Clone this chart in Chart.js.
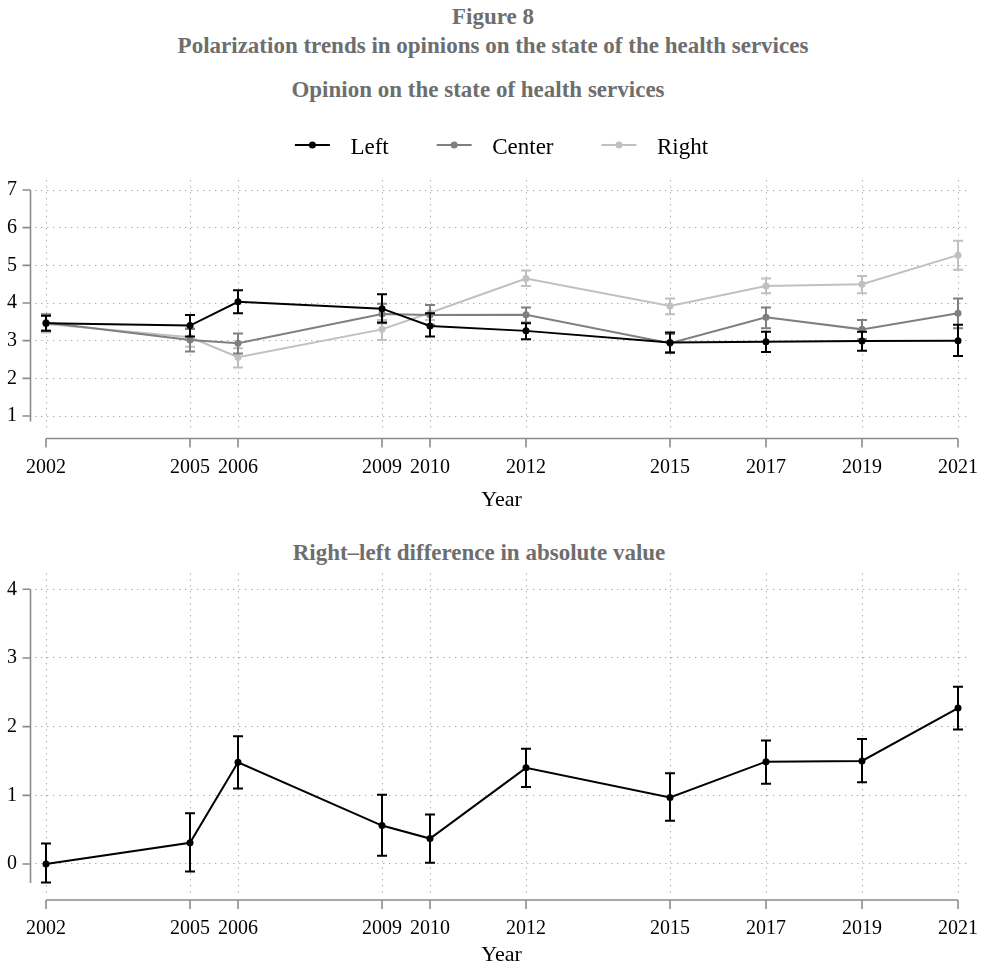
<!DOCTYPE html>
<html>
<head>
<meta charset="utf-8">
<script src="https://cdn.jsdelivr.net/npm/chart.js@4.4.1/dist/chart.umd.min.js"></script>
<style>
  html, body { margin: 0; padding: 0; background: #fff; }
  body { width: 985px; height: 971px; position: relative; overflow: hidden; font-family: "Liberation Serif", serif; }
  .ttl { position: absolute; left: 0; text-align: center; font-weight: bold; font-size: 23px; line-height: 28px; color: #6e6e6e; white-space: nowrap; }
  #topWrap { position: absolute; left: 0; top: 60px; width: 985px; height: 460px; }
  #botWrap { position: absolute; left: 0; top: 560px; width: 985px; height: 411px; }
</style>
</head>
<body>
<div class="ttl" style="top:3px; width:986px;">Figure 8</div>
<div class="ttl" style="top:32px; width:986px;">Polarization trends in opinions on the state of the health services</div>
<div class="ttl" style="top:76px; width:956px;">Opinion on the state of health services</div>
<div class="ttl" style="top:539px; width:958px;">Right–left difference in absolute value</div>
<div id="topWrap"><canvas id="opinionChart"></canvas></div>
<div id="botWrap"><canvas id="diffChart"></canvas></div>
<script>
const years = [2002, 2005, 2006, 2009, 2010, 2012, 2015, 2017, 2019, 2021];

const leftMean  = [3.46, 3.40, 4.03, 3.85, 3.39, 3.26, 2.95, 2.97, 2.99, 3.00];
const leftLower = [3.26, 3.11, 3.73, 3.48, 3.11, 3.04, 2.68, 2.70, 2.73, 2.59];
const leftUpper = [3.66, 3.68, 4.34, 4.23, 3.73, 3.46, 3.22, 3.24, 3.24, 3.42];

const centerMean  = [3.48, 3.02, 2.93, 3.71, 3.68, 3.69, 2.93, 3.62, 3.30, 3.73];
const centerLower = [3.26, 2.71, 2.66, 3.46, 3.42, 3.48, 2.70, 3.33, 3.04, 3.33];
const centerUpper = [3.70, 3.31, 3.19, 3.98, 3.95, 3.88, 3.18, 3.88, 3.55, 4.12];

const rightMean  = [3.44, 3.09, 2.56, 3.30, 3.74, 4.65, 3.92, 4.45, 4.50, 5.27];
const rightLower = [3.22, 2.84, 2.29, 3.02, 3.55, 4.45, 3.70, 4.26, 4.26, 4.88];
const rightUpper = [3.68, 3.34, 2.80, 3.55, 3.95, 4.86, 4.12, 4.65, 4.72, 5.65];

const diffMean  = [0.00, 0.31, 1.48, 0.56, 0.37, 1.40, 0.97, 1.49, 1.50, 2.27];
const diffLower = [-0.27, -0.11, 1.10, 0.12, 0.02, 1.12, 0.63, 1.17, 1.19, 1.96];
const diffUpper = [0.30, 0.74, 1.86, 1.01, 0.72, 1.68, 1.32, 1.80, 1.82, 2.58];

const opinionTicks = [1, 2, 3, 4, 5, 6, 7];
const diffTicks = [0, 1, 2, 3, 4];

const FONT = '"Liberation Serif", serif';
const axisColor = '#8c8c8c';
const gridColor = '#b0b0b0';

// Stata-like axes: drawn a few px away from the plot region
const offsetAxes = {
  id: 'offsetAxes',
  beforeDatasetsDraw(chart) {
    const { ctx, chartArea, scales: { x, y } } = chart;
    const yv = y.ticks.map(t => t.value);
    const xv = x.ticks.map(t => t.value);
    const ax = chartArea.left - 4.5;
    const ay = chartArea.bottom + 7;
    ctx.save();
    ctx.strokeStyle = axisColor;
    ctx.lineWidth = 1.6;
    ctx.beginPath();
    ctx.moveTo(ax, y.getPixelForValue(Math.max(...yv)));
    ctx.lineTo(ax, chartArea.bottom - 10);
    yv.forEach(v => {
      const py = y.getPixelForValue(v);
      ctx.moveTo(ax - 8, py);
      ctx.lineTo(ax, py);
    });
    ctx.moveTo(x.getPixelForValue(xv[0]), ay);
    ctx.lineTo(x.getPixelForValue(xv[xv.length - 1]), ay);
    xv.forEach(v => {
      const px = x.getPixelForValue(v);
      ctx.moveTo(px, ay);
      ctx.lineTo(px, ay + 9);
    });
    ctx.stroke();
    ctx.restore();
  }
};

const errorBars = {
  id: 'errorBars',
  afterDatasetDraw(chart, args) {
    const ds = chart.data.datasets[args.index];
    if (!ds.lower) return;
    const ctx = chart.ctx;
    const y = chart.scales.y;
    ctx.save();
    ctx.strokeStyle = ds.borderColor;
    ctx.lineWidth = 2;
    args.meta.data.forEach((pt, i) => {
      const top = y.getPixelForValue(ds.upper[i]);
      const bot = y.getPixelForValue(ds.lower[i]);
      ctx.beginPath();
      ctx.moveTo(pt.x, top); ctx.lineTo(pt.x, bot);
      ctx.moveTo(pt.x - 5, top); ctx.lineTo(pt.x + 5, top);
      ctx.moveTo(pt.x - 5, bot); ctx.lineTo(pt.x + 5, bot);
      ctx.stroke();
    });
    ctx.restore();
  }
};

// line + dot symbols next to the legend texts
const legendIcons = {
  id: 'legendIcons',
  afterDraw(chart) {
    const lg = chart.legend;
    if (!lg || !lg.legendHitBoxes) return;
    const ctx = chart.ctx;
    lg.legendItems.forEach((item, i) => {
      const hb = lg.legendHitBoxes[i];
      const col = chart.data.datasets[item.datasetIndex].borderColor;
      const cy = hb.top + hb.height / 2 - 3;
      ctx.save();
      ctx.strokeStyle = col;
      ctx.fillStyle = col;
      ctx.lineWidth = 2;
      ctx.beginPath();
      ctx.moveTo(hb.left, cy);
      ctx.lineTo(hb.left + 35, cy);
      ctx.stroke();
      ctx.beginPath();
      ctx.arc(hb.left + 17.5, cy, 3.5, 0, Math.PI * 2);
      ctx.fill();
      ctx.restore();
    });
  }
};

function series(label, color, mean, lower, upper) {
  return {
    label: label,
    data: years.map((yr, i) => ({ x: yr, y: mean[i] })),
    lower: lower,
    upper: upper,
    borderColor: color,
    backgroundColor: color,
    borderWidth: 2,
    pointRadius: 3.5,
    pointBorderWidth: 0,
    pointBackgroundColor: color,
    tension: 0
  };
}

function xScale(height, titlePad) {
  return {
    type: 'linear',
    min: 2001.7708,
    max: 2021.2083,
    afterBuildTicks: s => { s.ticks = years.map(v => ({ value: v })); },
    afterFit: s => { s.height = height; s.paddingLeft = 0; s.paddingRight = 0; },
    grid: { color: gridColor, lineWidth: 1, drawTicks: false },
    border: { display: false, dash: [1.5, 4.5] },
    ticks: {
      autoSkip: false, maxRotation: 0, minRotation: 0, padding: 24,
      color: '#000', font: { family: FONT, size: 20 },
      callback: v => String(v)
    },
    title: {
      display: true, text: 'Year', color: '#000',
      font: { family: FONT, size: 22 },
      padding: { top: 0, bottom: titlePad }
    }
  };
}

function yScale(min, max, ticks) {
  return {
    min: min,
    max: max,
    afterBuildTicks: s => { s.ticks = ticks.map(v => ({ value: v })); },
    afterFit: s => { s.width = 35; s.paddingTop = 0; s.paddingBottom = 0; },
    grid: { color: gridColor, lineWidth: 1, drawTicks: false },
    border: { display: false, dash: [1.5, 4.5] },
    ticks: {
      autoSkip: false, padding: 18, color: '#000', font: { family: FONT, size: 20 },
      callback: v => String(v)
    }
  };
}

new Chart(document.getElementById('opinionChart'), {
  type: 'line',
  data: {
    datasets: [
      series('Left', '#000000', leftMean, leftLower, leftUpper),
      series('Center', '#7f7f7f', centerMean, centerLower, centerUpper),
      series('Right', '#c0c0c0', rightMean, rightLower, rightUpper)
    ]
  },
  options: {
    responsive: true,
    maintainAspectRatio: false,
    animation: false,
    layout: { padding: { top: 18, left: 0, right: 17, bottom: 0 } },
    plugins: {
      title: { display: false },
      tooltip: { enabled: false },
      legend: {
        display: true,
        position: 'top',
        fullSize: false,
        labels: {
          boxWidth: 44, boxHeight: 44, padding: 48, color: '#000',
          font: { family: FONT, size: 23 },
          generateLabels: chart => chart.data.datasets.map((ds, i) => ({
            text: ds.label, fillStyle: 'rgba(0,0,0,0)', strokeStyle: 'rgba(0,0,0,0)',
            lineWidth: 0, hidden: false, datasetIndex: i, fontColor: '#000'
          }))
        }
      }
    },
    scales: {
      x: xScale(88.5, 7),
      y: yScale(0.5885, 7.2655, opinionTicks)
    }
  },
  plugins: [offsetAxes, errorBars, legendIcons]
});

new Chart(document.getElementById('diffChart'), {
  type: 'line',
  data: {
    datasets: [series('Right-left difference', '#000000', diffMean, diffLower, diffUpper)]
  },
  options: {
    responsive: true,
    maintainAspectRatio: false,
    animation: false,
    layout: { padding: { top: 13, left: 0, right: 17, bottom: 0 } },
    plugins: {
      legend: { display: false },
      tooltip: { enabled: false }
    },
    scales: {
      x: xScale(78, 3),
      y: yScale(-0.4223, 4.2374, diffTicks)
    }
  },
  plugins: [offsetAxes, errorBars]
});
</script>
</body>
</html>
